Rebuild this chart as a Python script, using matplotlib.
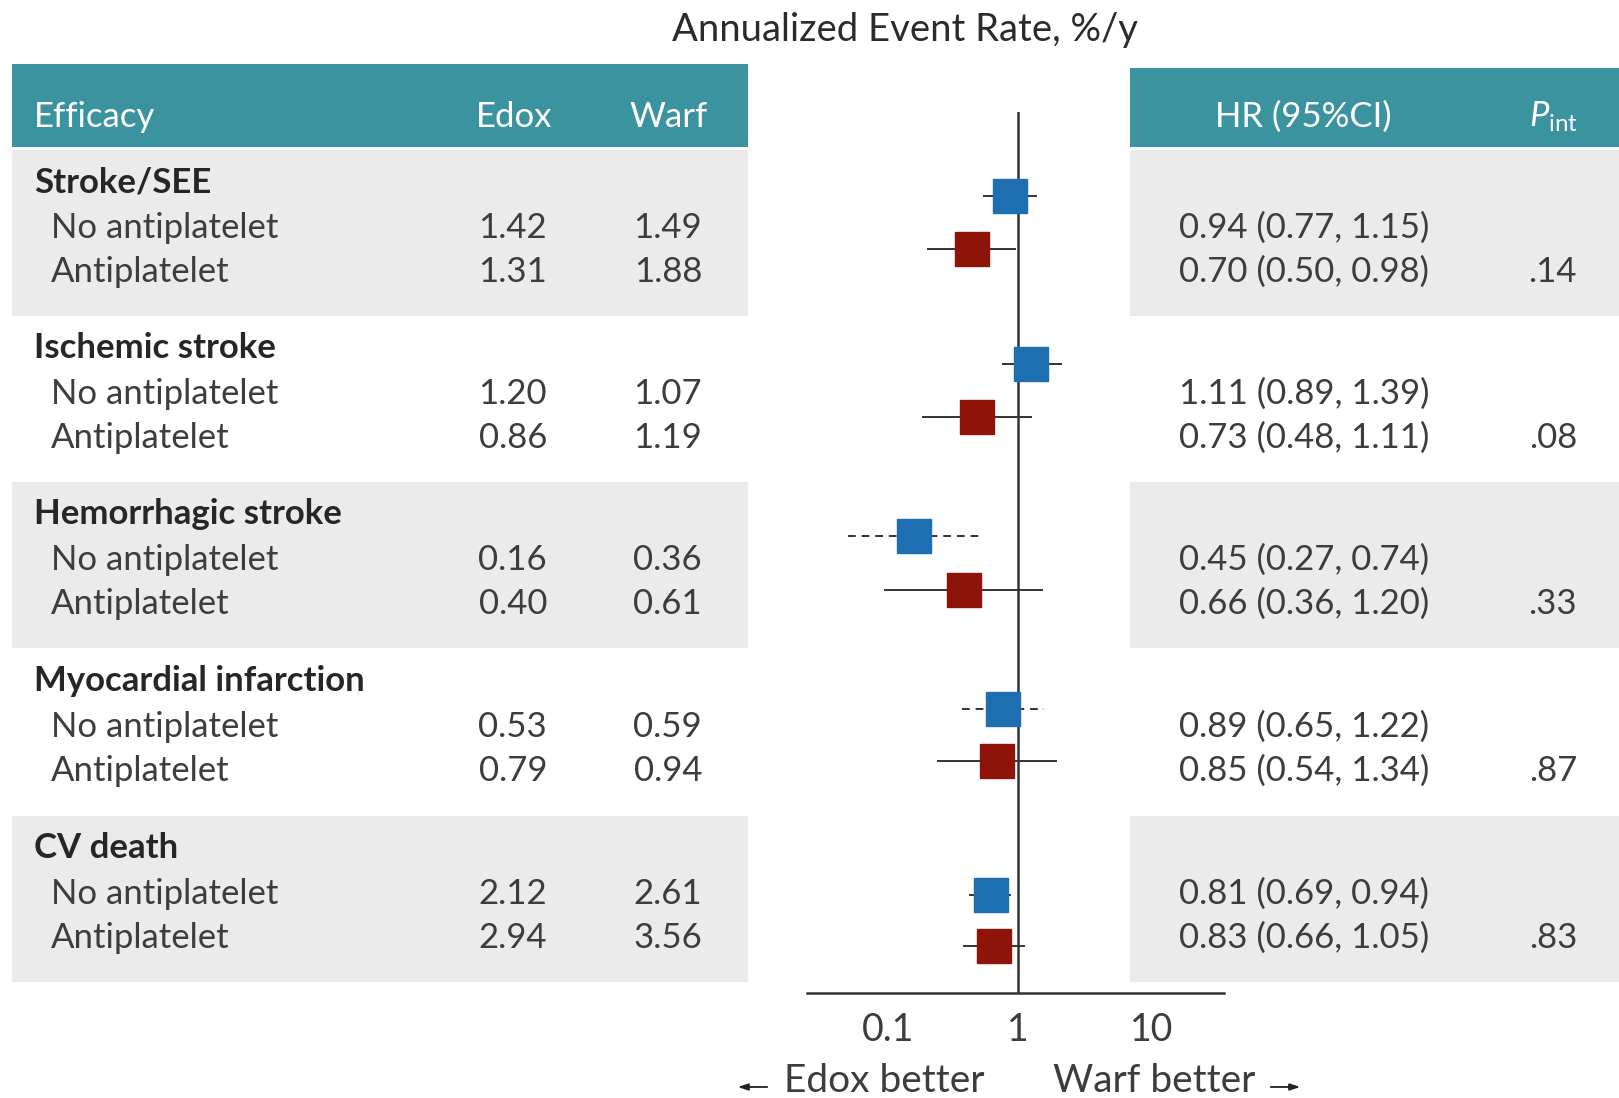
import matplotlib
matplotlib.use("Agg")
import matplotlib.pyplot as plt
from matplotlib.patches import Rectangle

plt.rcParams['font.family'] = ['Lato', 'DejaVu Sans']
plt.rcParams['mathtext.fontset'] = 'custom'
plt.rcParams['mathtext.rm'] = 'Lato'
plt.rcParams['mathtext.it'] = 'Lato:italic'

# data
groups = ['Stroke/SEE', 'Ischemic stroke', 'Hemorrhagic stroke',
          'Myocardial infarction', 'CV death']
subgroups = ['No antiplatelet', 'Antiplatelet']
edox_no = [1.42, 1.20, 0.16, 0.53, 2.12]
edox_anti = [1.31, 0.86, 0.40, 0.79, 2.94]
warf_no = [1.49, 1.07, 0.36, 0.59, 2.61]
warf_anti = [1.88, 1.19, 0.61, 0.94, 3.56]
hr_no = [0.94, 1.11, 0.45, 0.89, 0.81]
lo_no = [0.77, 0.89, 0.27, 0.65, 0.69]
hi_no = [1.15, 1.39, 0.74, 1.22, 0.94]
hr_anti = [0.70, 0.73, 0.66, 0.85, 0.83]
lo_anti = [0.50, 0.48, 0.36, 0.54, 0.66]
hi_anti = [0.98, 1.11, 1.20, 1.34, 1.05]
p_int = ['.14', '.08', '.33', '.87', '.83']
dashed_no = [False, False, True, True, False]
tick_labels = ['0.1', '1', '10']

# colours / layout (pixels)
TEAL = '#3a939f'
GRAY = '#ebebeb'
BLUE = '#1d6fb2'
RED = '#8e1409'
TXT = '#3d3d3d'
FS = 25

W, H = 1619, 1098
fig = plt.figure(figsize=(W / 100, H / 100), dpi=100)
bg = fig.add_axes([0, 0, 1, 1])
bg.set_xlim(0, W)
bg.set_ylim(H, 0)
bg.axis('off')

group_top = [150, 316, 482, 649, 816]
group_h = 166
blue_off = [46, 48, 54, 60, 79]
red_off = [99, 101, 108, 112, 130]

# headers
bg.add_patch(Rectangle((12, 64), 736, 83, color=TEAL, lw=0))
bg.add_patch(Rectangle((1130, 68), W - 1130, 79, color=TEAL, lw=0))
bg.text(34, 117, 'Efficacy', color='white', fontsize=FS, va='center')
bg.text(514, 117, 'Edox', color='white', fontsize=FS, va='center', ha='center')
bg.text(669, 117, 'Warf', color='white', fontsize=FS, va='center', ha='center')
bg.text(1303, 117, 'HR (95%CI)', color='white', fontsize=FS, va='center', ha='center')
bg.text(1554, 117, r'$P_{\mathrm{int}}$', color='white', fontsize=FS, va='center', ha='center')
bg.text(905, 30, 'Annualized Event Rate, %/y', color='#2b2b2b', fontsize=27.5,
        va='center', ha='center')

for i, g in enumerate(groups):
    top = group_top[i]
    if i % 2 == 0:
        bg.add_patch(Rectangle((12, top), 736, group_h, color=GRAY, lw=0))
        bg.add_patch(Rectangle((1130, top), W - 1130, group_h, color=GRAY, lw=0))
    bg.text(34, top + 32, g, fontsize=FS, fontweight='bold', color='#262626', va='center')
    y_no, y_an = top + 78, top + 122
    bg.text(51, y_no, subgroups[0], fontsize=FS, color=TXT, va='center')
    bg.text(51, y_an, subgroups[1], fontsize=FS, color=TXT, va='center')
    bg.text(547, y_no, f'{edox_no[i]:.2f}', fontsize=FS, color=TXT, va='center', ha='right')
    bg.text(547, y_an, f'{edox_anti[i]:.2f}', fontsize=FS, color=TXT, va='center', ha='right')
    bg.text(702, y_no, f'{warf_no[i]:.2f}', fontsize=FS, color=TXT, va='center', ha='right')
    bg.text(702, y_an, f'{warf_anti[i]:.2f}', fontsize=FS, color=TXT, va='center', ha='right')
    bg.text(1179, y_no, f'{hr_no[i]:.2f} ({lo_no[i]:.2f}, {hi_no[i]:.2f})',
            fontsize=FS, color=TXT, va='center')
    bg.text(1179, y_an, f'{hr_anti[i]:.2f} ({lo_anti[i]:.2f}, {hi_anti[i]:.2f})',
            fontsize=FS, color=TXT, va='center')
    bg.text(1577, y_an, p_int[i], fontsize=FS, color=TXT, va='center', ha='right')

# forest plot
x0, x1, ytop, ybot = 807, 1224, 112, 993
ax = fig.add_axes([x0 / W, 1 - ybot / H, (x1 - x0) / W, (ybot - ytop) / H])
ax.set_xscale('log')
ax.set_xlim(0.197, 4.89)
ax.set_ylim(ybot, ytop)
ax.patch.set_alpha(0)
for s in ['top', 'left', 'right']:
    ax.spines[s].set_visible(False)
ax.spines['bottom'].set_linewidth(1.8)
ax.spines['bottom'].set_color('#333333')
ax.axvline(1, color='#333333', lw=1.8, zorder=1)

for i in range(len(groups)):
    yb = group_top[i] + blue_off[i]
    yr = group_top[i] + red_off[i]
    ax.plot([lo_no[i], hi_no[i]], [yb, yb], color='#333333', lw=1.4,
            ls=(0, (4, 3)) if dashed_no[i] else '-', zorder=2)
    ax.plot([lo_anti[i], hi_anti[i]], [yr, yr], color='#333333', lw=1.4, zorder=2)
    ax.plot(hr_no[i], yb, marker='s', ms=24, color=BLUE, mec=BLUE, zorder=3)
    ax.plot(hr_anti[i], yr, marker='s', ms=24, color=RED, mec=RED, zorder=3)

ax.set_yticks([])
ax.xaxis.set_minor_locator(matplotlib.ticker.NullLocator())
ax.set_xticks([0.367, 1, 2.81])
ax.set_xticklabels(tick_labels, fontsize=27, color=TXT)
ax.tick_params(axis='x', length=0, pad=14)

# direction labels
bg.text(784, 1081, 'Edox better', fontsize=28, color=TXT, va='center')
bg.text(1053, 1081, 'Warf better', fontsize=28, color=TXT, va='center')
bg.annotate('', xy=(735, 1087), xytext=(770, 1087),
            arrowprops=dict(arrowstyle='-|>,head_length=0.6,head_width=0.2',
                            color='#222222', lw=1.3))
bg.annotate('', xy=(1303, 1087), xytext=(1268, 1087),
            arrowprops=dict(arrowstyle='-|>,head_length=0.6,head_width=0.2',
                            color='#222222', lw=1.3))

fig.savefig('out.png', dpi=100, facecolor='white')
